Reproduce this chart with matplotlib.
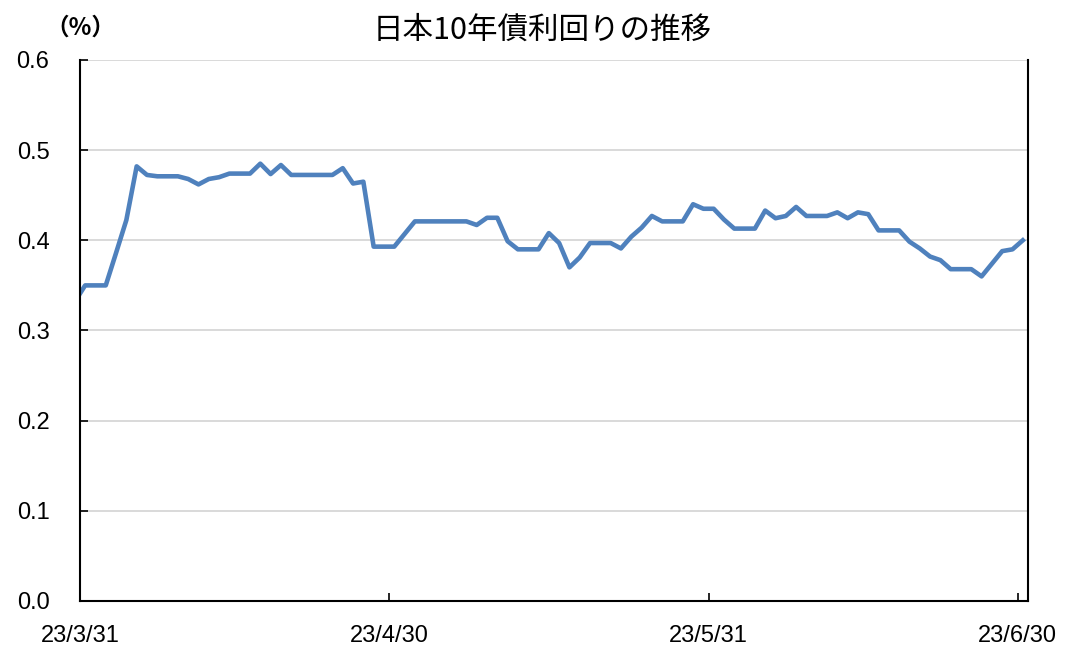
import matplotlib
matplotlib.use("Agg")
import matplotlib.pyplot as plt
import matplotlib.dates as mdates
import matplotlib.ticker as mticker
import pandas as pd
import numpy as np

# daily values (weekends carried over), first one (3/30) falls outside the axis
start_date = "2023-03-30"
end_date = "2023-06-30"
yields = [
    0.332,
    0.350, 0.350, 0.350, 0.386, 0.4225, 0.482, 0.4725, 0.471, 0.471, 0.471,
    0.468, 0.462, 0.468, 0.470, 0.474, 0.474, 0.474, 0.485, 0.4735, 0.4835,
    0.4725, 0.4725, 0.4725, 0.4725, 0.4725, 0.480, 0.463, 0.465, 0.393, 0.393,
    0.393, 0.407, 0.421, 0.421, 0.421, 0.421, 0.421, 0.421, 0.417, 0.425,
    0.425, 0.399, 0.390, 0.390, 0.390, 0.408, 0.397, 0.370, 0.381, 0.397,
    0.397, 0.397, 0.391, 0.404, 0.414, 0.427, 0.421, 0.421, 0.421, 0.440,
    0.435, 0.435, 0.423, 0.413, 0.413, 0.413, 0.433, 0.4245, 0.427, 0.437,
    0.427, 0.427, 0.427, 0.431, 0.4245, 0.431, 0.429, 0.411, 0.411, 0.411,
    0.3985, 0.391, 0.382, 0.378, 0.368, 0.368, 0.368, 0.360, 0.374, 0.388,
    0.390, 0.400,
]
tick_dates = ["2023-03-31", "2023-04-30", "2023-05-31", "2023-06-30"]
tick_labels = ["23/3/31", "23/4/30", "23/5/31", "23/6/30"]
title = "日本10年債利回りの推移"
unit_label = "（%）"

dates = pd.date_range(start_date, end_date, freq="D")
# each day sits in the middle of its own band on the date axis
x = mdates.date2num(dates.to_pydatetime()) + 0.5

plt.rcParams['font.family'] = ['Liberation Sans', 'Noto Sans CJK JP']

fig = plt.figure(figsize=(10.68, 6.47), dpi=100)
ax = fig.add_axes([0.0749, 0.0711, 0.8876, 0.8362])

ax.plot(x, yields, color='#4F81BD', linewidth=3.3, solid_joinstyle='round')

ax.set_xlim(mdates.date2num(pd.Timestamp("2023-03-31")), mdates.date2num(pd.Timestamp("2023-07-01")))
ax.set_ylim(0, 0.6)
ax.set_xticks(mdates.date2num(pd.to_datetime(tick_dates).to_pydatetime()))
ax.set_xticklabels(tick_labels)
ax.set_yticks(np.arange(0, 0.61, 0.1))
ax.yaxis.set_major_formatter(mticker.FormatStrFormatter('%.1f'))

ax.grid(axis='y', color='#D9D9D9', linewidth=1.4)
ax.set_axisbelow(True)
ax.tick_params(axis='both', direction='in', length=6, width=1.2, labelsize=17, colors='black')
ax.tick_params(axis='x', pad=17)
ax.tick_params(axis='y', pad=22)
for s in ['left', 'bottom', 'right']:
    ax.spines[s].set_color('black')
    ax.spines[s].set_linewidth(1.5)
ax.spines['top'].set_visible(False)

fig.text(0.508, 0.953, title, ha='center', va='center', fontsize=22,
         family=['Noto Sans CJK JP', 'DejaVu Sans'])
fig.text(0.075, 0.958, unit_label, ha='center', va='center', fontsize=17,
         fontweight='bold', family=['Noto Sans CJK JP', 'DejaVu Sans'])

fig.savefig("out.png", dpi=100)
